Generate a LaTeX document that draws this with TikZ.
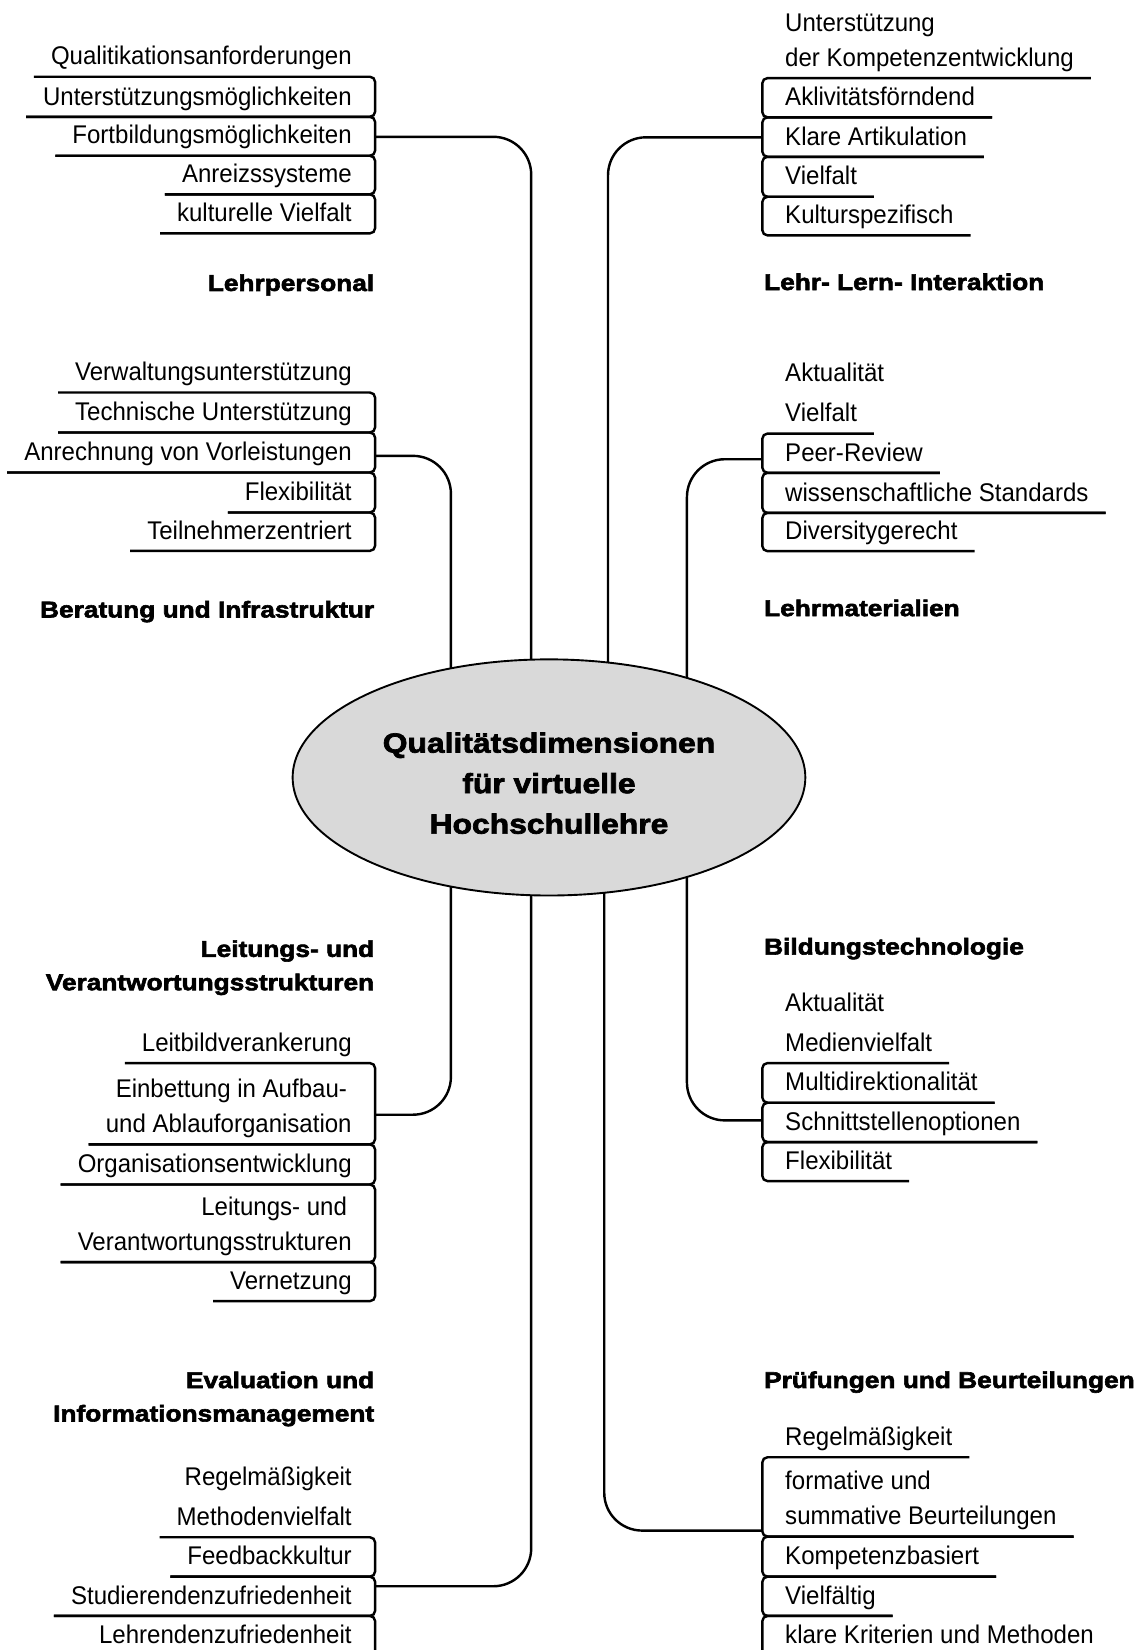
\documentclass[tikz,border=0pt]{standalone}
\usepackage{fontspec}
\setmainfont{Liberation Sans}[FakeStretch=0.94]
\newfontfamily\hfont{Liberation Sans}[FakeStretch=1.15, BoldFeatures={FakeBold=2.6}]
\usetikzlibrary{shapes.geometric,calc}
\definecolor{ellfill}{RGB}{217,217,217}
\newcommand\twoR[2]{\begin{tabular}[b]{@{}r@{}}#1\\#2\end{tabular}}
\newcommand\twoL[2]{\begin{tabular}[b]{@{}l@{}}#1\\#2\end{tabular}}
\newcommand\twoC[3]{\begin{tabular}{@{}c@{}}#1\\#2\\#3\end{tabular}}
\tikzset{
  itm/.style={inner xsep=16pt, inner ysep=11pt, text depth=0pt, font=\fontsize{24.3}{33.4}\selectfont},
  itmL/.style={itm, anchor=south east},
  itmR/.style={itm, anchor=south west},
  ttl/.style={inner sep=0pt, text depth=0pt, font=\hfont\bfseries\fontsize{21.7}{31.7}\selectfont},
  ttlL/.style={ttl, anchor=south east},
  ttlR/.style={ttl, anchor=south west},
  brk/.style={line width=2.3pt, rounded corners=5pt},
  con/.style={line width=2.3pt, rounded corners=36pt},
  hub/.style={ellipse, draw, line width=1.8pt, fill=ellfill, minimum width=487.2pt, minimum height=224.4pt, inner sep=0pt},
  hubtext/.style={inner sep=0pt, font=\hfont\bfseries\fontsize{26.3}{38.5}\selectfont}
}
\newcommand\brL[2]{\draw[brk] (#1.south west) -- (#1.south -| BL) -- (#2.south -| BL) -- (#2.south west);}
\newcommand\brR[2]{\draw[brk] (#1.south east) -- (#1.south -| BR) -- (#2.south -| BR) -- (#2.south east);}
\begin{document}
\begin{tikzpicture}[x=1pt,y=-1pt]
\useasboundingbox (0,0) rectangle (1080,1568);
\clip (0,0) rectangle (1080,1568);
\coordinate (BL) at (356.5,0);
\coordinate (BR) at (724.4,0);

% ---------- Lehrpersonal
\node[itmL] (lp1) at (350.4,72.9) {Qualitikationsanforderungen};
\node[itmL] (lp2) at (350.4,111) {Unterstützungsmöglichkeiten};
\node[itmL] (lp3) at (350.4,148) {Fortbildungsmöglichkeiten};
\node[itmL] (lp4) at (350.4,184.7) {Anreizssysteme};
\node[itmL] (lp5) at (350.4,221.8) {kulturelle Vielfalt};
\node[ttlL] (tlp) at (355.8,276.7) {Lehrpersonal};
\brL{lp1}{lp2}\brL{lp2}{lp3}\brL{lp3}{lp4}\brL{lp4}{lp5}

% ---------- Lehr- Lern- Interaktion
\node[itmR] (ll1) at (730,74.2) {\twoL{Unterstützung}{der Kompetenzentwicklung}};
\node[itmR] (ll2) at (730,111.5) {Aklivitätsförndend};
\node[itmR] (ll3) at (730,149) {Klare Artikulation};
\node[itmR] (ll4) at (730,187) {Vielfalt};
\node[itmR] (ll5) at (730,223.7) {Kulturspezifisch};
\node[ttlR] (tll) at (726,275.8) {Lehr- Lern- Interaktion};
\brR{ll1}{ll2}\brR{ll2}{ll3}\brR{ll3}{ll4}\brR{ll4}{ll5}

% ---------- Beratung und Infrastruktur
\node[itmL] (bi1) at (350.4,373) {Verwaltungsunterstützung};
\node[itmL] (bi2) at (350.4,411) {Technische Unterstützung};
\node[itmL] (bi3) at (350.4,449) {Anrechnung von Vorleistungen};
\node[itmL] (bi4) at (350.4,487) {Flexibilität};
\node[itmL] (bi5) at (350.4,523.5) {Teilnehmerzentriert};
\node[ttlL] (tbi) at (355.8,587) {Beratung und Infrastruktur};
\brL{bi1}{bi2}\brL{bi2}{bi3}\brL{bi3}{bi4}\brL{bi4}{bi5}

% ---------- Lehrmaterialien
\node[itmR] (lm1) at (730,373.9) {Aktualität};
\node[itmR] (lm2) at (730,412) {Vielfalt};
\node[itmR] (lm3) at (730,449.3) {Peer-Review};
\node[itmR] (lm4) at (730,487.4) {wissenschaftliche Standards};
\node[itmR] (lm5) at (730,523.8) {Diversitygerecht};
\node[ttlR] (tlm) at (726,585.7) {Lehrmaterialien};
\brR{lm2}{lm3}\brR{lm3}{lm4}\brR{lm4}{lm5}

% ---------- Leitungs- und Verantwortungsstrukturen
\node[ttlL] (tlv) at (355.8,941.2) {\twoR{Leitungs- und}{Verantwortungsstrukturen}};
\node[itmL] (lv1) at (350.4,1010.2) {Leitbildverankerung};
\node[itmL] (lv2) at (350.4,1087.5) {\twoR{Einbettung in Aufbau-\kern4.5pt}{und Ablauforganisation}};
\node[itmL] (lv3) at (350.4,1125.6) {Organisationsentwicklung};
\node[itmL] (lv4) at (350.4,1199.4) {\twoR{Leitungs- und\kern4.5pt}{Verantwortungsstrukturen}};
\node[itmL] (lv5) at (350.4,1236.5) {Vernetzung};
\brL{lv1}{lv2}\brL{lv2}{lv3}\brL{lv3}{lv4}\brL{lv4}{lv5}

% ---------- Bildungstechnologie
\node[ttlR] (tbt) at (726,907.3) {Bildungstechnologie};
\node[itmR] (bt1) at (730,972.8) {Aktualität};
\node[itmR] (bt2) at (730,1010.2) {Medienvielfalt};
\node[itmR] (bt3) at (730,1047.9) {Multidirektionalität};
\node[itmR] (bt4) at (730,1085.3) {Schnittstellenoptionen};
\node[itmR] (bt5) at (730,1122.4) {Flexibilität};
\brR{bt2}{bt3}\brR{bt3}{bt4}\brR{bt4}{bt5}

% ---------- Evaluation und Informationsmanagement
\node[ttlL] (tei) at (355.8,1351) {\twoR{Evaluation und}{Informationsmanagement}};
\node[itmL] (ei1) at (350.4,1422.8) {Regelmäßigkeit};
\node[itmL] (ei2) at (350.4,1460.8) {Methodenvielfalt};
\node[itmL] (ei3) at (350.4,1498.3) {Feedbackkultur};
\node[itmL] (ei4) at (350.4,1535.6) {Studierendenzufriedenheit};
\node[itmL] (ei5) at (350.4,1573.3) {Lehrendenzufriedenheit};
\brL{ei2}{ei3}\brL{ei3}{ei4}\brL{ei4}{ei5}

% ---------- Prüfungen und Beurteilungen
\node[ttlR] (tpb) at (726,1319.2) {Prüfungen und Beurteilungen};
\node[itmR] (pb1) at (730,1384.8) {Regelmäßigkeit};
\node[itmR] (pb2) at (730,1460.2) {\twoL{formative und}{summative Beurteilungen}};
\node[itmR] (pb3) at (730,1498.3) {Kompetenzbasiert};
\node[itmR] (pb4) at (730,1535.6) {Vielfältig};
\node[itmR] (pb5) at (730,1573.3) {klare Kriterien und Methoden};
\brR{pb1}{pb2}\brR{pb2}{pb3}\brR{pb3}{pb4}\brR{pb4}{pb5}

% ---------- connectors to the hub (drawn first, hub covers their ends)
\coordinate (jLP) at (356.5,130);   \coordinate (eLP) at (504.8,738.8);
\coordinate (jLL) at (724.4,130.5); \coordinate (eLL) at (577.8,738.8);
\coordinate (jBI) at (356.5,433.2); \coordinate (eBI) at (428.5,738.8);
\coordinate (jLM) at (724.4,436.4); \coordinate (eLM) at (652.8,738.8);
\coordinate (jLV) at (356.5,1059.3); \coordinate (eLV) at (428.5,738.8);
\coordinate (jBT) at (724.4,1064.7); \coordinate (eBT) at (652.8,738.8);
\coordinate (jEI) at (356.5,1507.4); \coordinate (eEI) at (504.8,738.8);
\coordinate (jPB) at (724.4,1454.5); \coordinate (ePB) at (574.2,738.8);
\foreach \g in {LP,LL,BI,LM,LV,BT,EI,PB}{\draw[con] (j\g) -| (e\g);}

% ---------- hub
\node[hub] (C) at (521.7,738.8) {};
\node[hubtext] (Ct) at (521.7,746) {\twoC{Qualitätsdimensionen}{für virtuelle}{Hochschullehre}};
\end{tikzpicture}
\end{document}
